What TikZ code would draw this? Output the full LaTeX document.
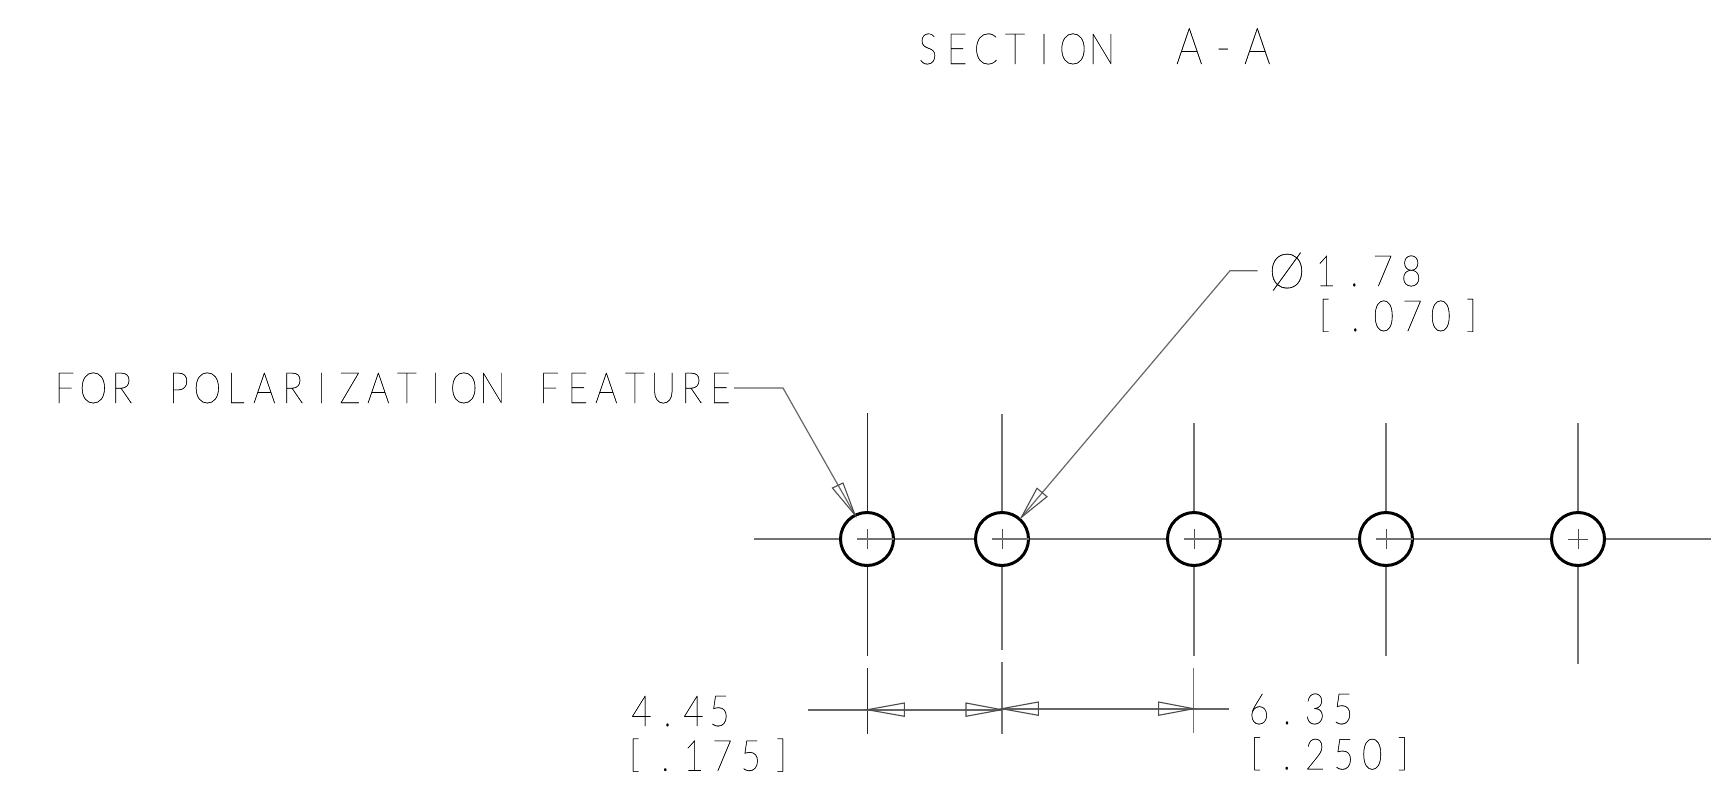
\documentclass[tikz,border=0pt]{standalone}
\usepackage{fontspec}
\setmainfont[FakeBold=0.3]{Lato Thin}
\usetikzlibrary{calc}
\makeatletter
% fixed-pitch text: every character sits in a cell of width #1, narrowed by \gx
\newcommand\gx{0.82}
\newcommand\cell[1]{\makebox[\pitch][c]{\scalebox{\gx}[1]{#1}}}
\newlength\pitch
\newcommand\mono[2]{\setlength\pitch{#1pt}\@tfor\@c:=#2\do{\expandafter\cell\expandafter{\@c}}}
\makeatother
\newcommand\lb{\hspace{-3pt}\raisebox{0.085em}{\scalebox{1.2}[0.88]{[}}\hspace{3pt}}
\newcommand\rb{\hspace{3pt}\raisebox{0.085em}{\scalebox{1.2}[0.88]{]}}\hspace{-3pt}}
\tikzset{
  lbl/.style={anchor=base,inner sep=0pt,outer sep=0pt,font=\fontsize{43}{43}\selectfont,text=black},
  bigl/.style={lbl,font=\fontsize{51}{51}\selectfont},
  hole/.style={circle,draw=black,line width=3pt,minimum size=53pt,inner sep=0pt,outer sep=0pt},
  axis/.style={draw=black!55,line width=1.6pt},
  thinaxis/.style={draw=black!85,line width=1pt},
  dimline/.style={draw=black!60,line width=1.6pt},
  lead/.style={draw=black!60,line width=1.2pt},
  tipshape/.style={draw=black!70,line width=1.1pt,line join=miter},
  tick/.style={draw=black!70,line width=1pt}
}
\begin{document}
\begin{tikzpicture}[x=1pt,y=-1pt]
\useasboundingbox (0,0) rectangle (1717,809);
% centre lines
\coordinate (hL) at (754,539);
\coordinate (hR) at (1711,539);
\draw[axis] (hL) -- (hR);
\foreach \n/\x/\t/\b/\st in {1/867/413/656/thinaxis,2/1002/414/650/axis,3/1194/423/656/axis,4/1386/423/656/axis,5/1578/423/664/axis}{
  \coordinate (t\n) at (\x,\t);
  \coordinate (b\n) at (\x,\b);
  \draw[\st] (t\n) -- (b\n);
  \node[hole,fill=white] (c\n) at (\x,539) {};
  \draw[tick] ($(c\n)+(-10,0)$) -- ($(c\n)+(10,0)$);
  \draw[tick] ($(c\n)+(0,-10)$) -- ($(c\n)+(0,10)$);
}
\foreach \n in {1,2,3,4}{
  \draw[axis] ($(c\n)+(-10,0)$) -- (c\n.east);
}
% leaders
\coordinate (fa) at (734,388);
\coordinate (fb) at (783,388);
\coordinate (ftip) at (855,515);
\draw[lead] (fa) -- (fb) -- (ftip);
\coordinate (fb1) at (832.4,488);
\coordinate (fb2) at (843,483);
\draw[tipshape] (ftip) -- (fb1) -- (fb2) -- cycle;
\coordinate (pa) at (1257.5,270.7);
\coordinate (pb) at (1230,270.7);
\coordinate (ptip) at (1021.4,517.3);
\draw[lead] (pa) -- (pb) -- (ptip);
\coordinate (pb1) at (1037,488.3);
\coordinate (pb2) at (1047,496.7);
\draw[tipshape] (ptip) -- (pb1) -- (pb2) -- cycle;
% dimension extension lines
\foreach \n/\x/\t/\b/\st in {1/867.3/667.7/734/thinaxis,2/1001.7/662/734/axis,3/1193.6/667.7/733/axis}{
  \coordinate (et\n) at (\x,\t);
  \coordinate (eb\n) at (\x,\b);
  \draw[\st] (et\n) -- (eb\n);
}
% dimension lines
\coordinate (dL) at (807.6,709.7);
\coordinate (dA) at (867.3,709.7);
\coordinate (dB) at (1001.7,709.7);
\coordinate (dC) at (1001.7,708.7);
\coordinate (dD) at (1193.6,708.7);
\coordinate (dR) at (1229,708.7);
\draw[dimline] (dL) -- (dB);
\draw[dimline] (dC) -- (dR);
\draw[tipshape] (dA) -- ++(37.1,-6.7) -- ++(0,13.3) -- cycle;
\draw[tipshape] (dB) -- ++(-35.7,-6.7) -- ++(0,13.3) -- cycle;
\draw[tipshape] (dC) -- ++(36.6,-6.7) -- ++(0,13.3) -- cycle;
\draw[tipshape] (dD) -- ++(-35,-6.7) -- ++(0,13.3) -- cycle;
% labels
\node[lbl] (sec) at (1015,64) {\mono{29}{SECTION}};
\node[bigl] (aa) at (1223.3,64) {\mono{34}{A-A}};
\node[lbl] (pol) at (392.6,403) {\mono{28.5}{FOR~POLARIZATION~FEATURE}};
\node[lbl] (dia) at (1287,288) {\scalebox{1.08}[1.12]{Ø}};
\node[lbl] (d1) at (1368.5,286) {\mono{28.5}{1.78}};
\node[lbl] (d2) at (1398,331) {\mono{28.5}{\lb.070\rb}};
\node[lbl] (l1) at (680.5,726) {\mono{26}{4.45}};
\node[lbl] (l2) at (708,770.7) {\mono{28.5}{\lb.175\rb}};
\node[lbl] (r1) at (1301,724) {\mono{28}{6.35}};
\node[lbl] (r2) at (1329.5,769.3) {\mono{28.5}{\lb.250\rb}};
\end{tikzpicture}
\end{document}
